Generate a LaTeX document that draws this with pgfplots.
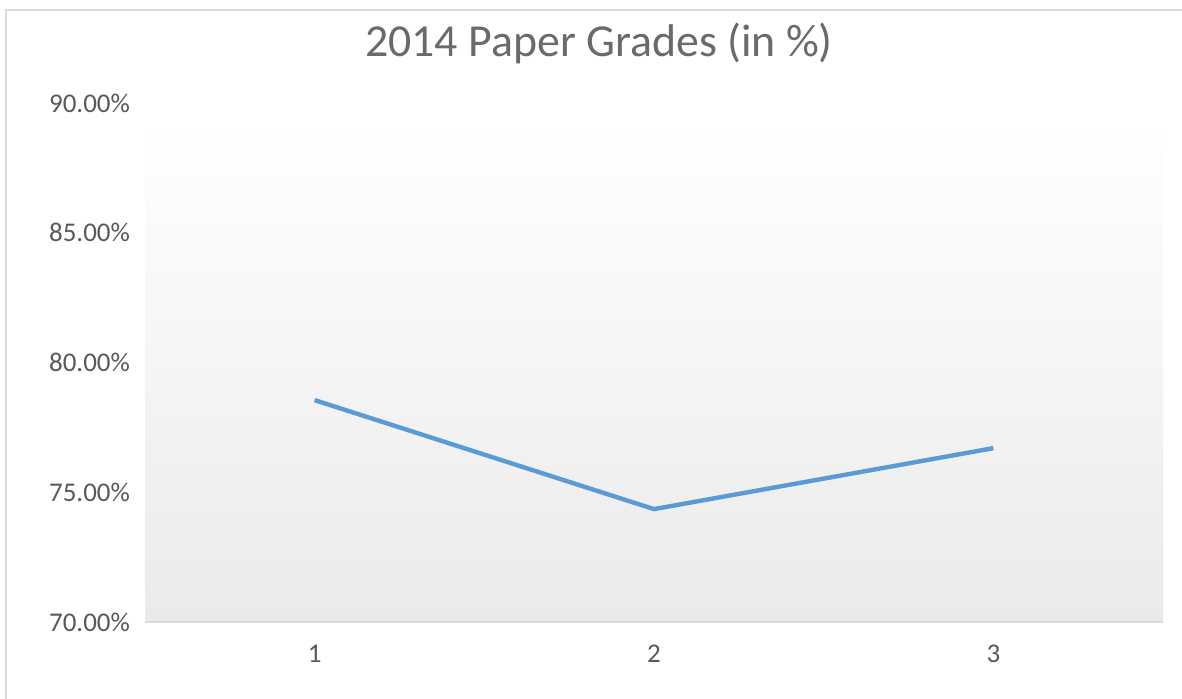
\documentclass[border=0pt]{standalone}
\usepackage{fontspec}
\setmainfont{Carlito}
\usepackage{pgfplots}
\pgfplotsset{compat=1.18}
\definecolor{txt}{HTML}{595959}
\definecolor{ttl}{HTML}{6A6A6A}
\definecolor{grid}{HTML}{D9D9D9}
\definecolor{line}{HTML}{5B9BD5}
\begin{document}
\begin{tikzpicture}[x=0.5pt,y=0.5pt]
\useasboundingbox (0,0) rectangle (1182,698);
\fill[white] (0,0) rectangle (1182,698);
\draw[grid, line width=1.2pt] (6,-10) rectangle (1195,688);
\node[ttl, font=\fontsize{22.9}{27}\selectfont] at (599,655) {2014 Paper Grades (in \%)};
\begin{axis}[
  at={(145pt*0.5,76pt*0.5)}, anchor=south west,
  scale only axis,
  width=509pt, height=259.5pt,
  xmin=0.5, xmax=3.5, ymin=70, ymax=90,
  xtick={1,2,3}, xticklabels={1,2,3},
  ytick={70,75,80,85,90},
  yticklabels={70.00\%,75.00\%,80.00\%,85.00\%,90.00\%},
  major tick length=0pt,
  axis line style={draw=none},
  tick label style={txt, font=\fontsize{13.5}{16}\selectfont},
  yticklabel style={xshift=-4pt},
  xticklabel style={yshift=-8pt},
  clip=false,
]
\fill[top color=white, bottom color={rgb,255:red,234;green,234;blue,234}] (rel axis cs:0,0) rectangle (rel axis cs:1,0.975);
\draw[grid, line width=1pt] (rel axis cs:0,0) -- (rel axis cs:1,0);
\addplot[line, line width=2.2pt] coordinates {(1,78.55) (2,74.35) (3,76.7)};
\end{axis}
\end{tikzpicture}
\end{document}
